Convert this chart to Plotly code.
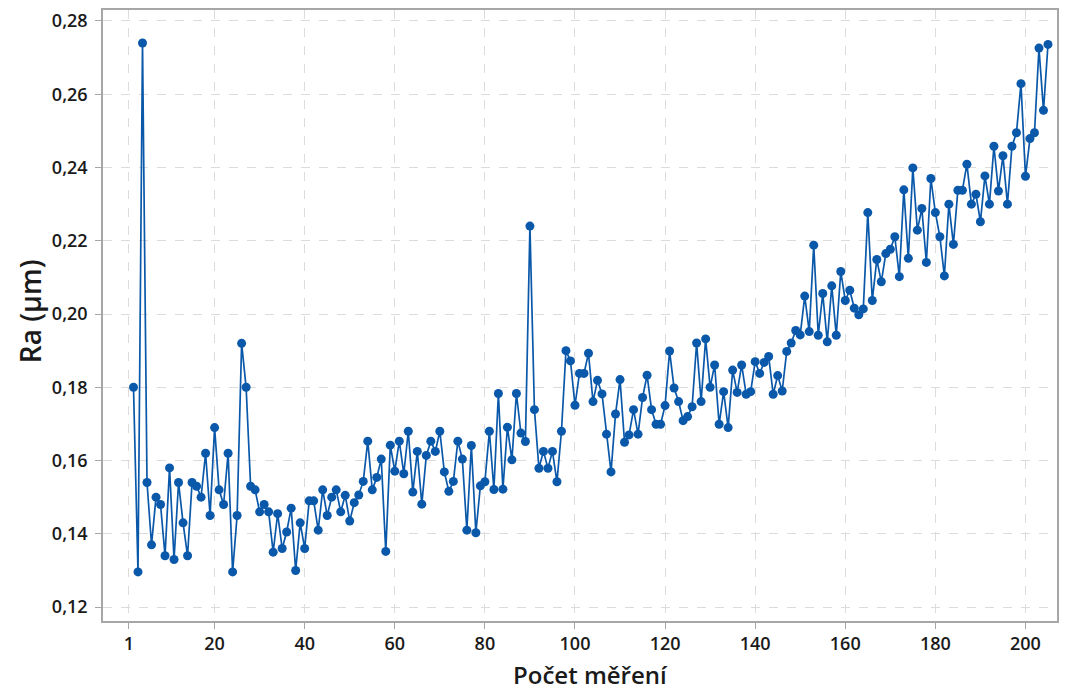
import plotly.graph_objects as go

# Measurement index (points start at 2 on the axis, end at 205)
x_index = list(range(2, 206))

ra_values = [
    0.180, 0.1296, 0.274, 0.154, 0.137, 0.150, 0.148, 0.134, 0.158, 0.133,
    0.154, 0.143, 0.134, 0.154, 0.153, 0.150, 0.162, 0.145, 0.169, 0.152,
    0.148, 0.162, 0.1296, 0.145, 0.192, 0.180, 0.153, 0.152, 0.146, 0.148,
    0.146, 0.135, 0.1455, 0.136, 0.1405, 0.147, 0.130, 0.143, 0.136, 0.149,
    0.149, 0.141, 0.152, 0.145, 0.150, 0.152, 0.146, 0.1505, 0.1435, 0.1485,
    0.1506, 0.1543, 0.1653, 0.152, 0.1554, 0.1604, 0.1352, 0.1642, 0.1571, 0.1653,
    0.1564, 0.168, 0.1514, 0.1625, 0.1481, 0.1614, 0.1653, 0.1625, 0.168, 0.1569,
    0.1516, 0.1543, 0.1653, 0.1604, 0.1410, 0.1641, 0.1403, 0.1531, 0.1542, 0.168,
    0.1521, 0.1783, 0.1522, 0.1691, 0.1602, 0.1783, 0.1675, 0.1652, 0.224, 0.1739,
    0.1579, 0.1625, 0.1579, 0.1625, 0.1542, 0.168, 0.190, 0.1872, 0.1751, 0.1838,
    0.1838, 0.1893, 0.1761, 0.1819, 0.1782, 0.1672, 0.1569, 0.1727, 0.1821, 0.165,
    0.167, 0.1739, 0.1672, 0.1772, 0.1833, 0.1739, 0.1699, 0.1699, 0.175, 0.1899,
    0.1798, 0.1761, 0.1709, 0.172, 0.1747, 0.1921, 0.1761, 0.1932, 0.180, 0.1861,
    0.1699, 0.1788, 0.169, 0.1847, 0.1786, 0.1861, 0.1781, 0.1788, 0.187, 0.1838,
    0.1868, 0.1884, 0.1781, 0.1832, 0.179, 0.1898, 0.1921, 0.1955, 0.1943, 0.2049,
    0.1952, 0.2188, 0.1942, 0.2056, 0.1924, 0.2077, 0.1942, 0.2116, 0.2037, 0.2065,
    0.2016, 0.1998, 0.2014, 0.2277, 0.2037, 0.2149, 0.2088, 0.2165, 0.2177, 0.2211,
    0.2102, 0.2339, 0.2152, 0.2399, 0.2229, 0.2288, 0.2141, 0.237, 0.2277, 0.2211,
    0.2104, 0.230, 0.219, 0.2338, 0.2338, 0.2409, 0.230, 0.2327, 0.2252, 0.2377,
    0.230, 0.2458, 0.2336, 0.2432, 0.230, 0.2458, 0.2495, 0.2629, 0.2376, 0.2479,
    0.2495, 0.2726, 0.2556, 0.2736,
]

x_ticks = [1, 20, 40, 60, 80, 100, 120, 140, 160, 180, 200]
y_ticks = [0.12, 0.14, 0.16, 0.18, 0.20, 0.22, 0.24, 0.26, 0.28]

x_title = "Počet měření"
y_title = "Ra (µm)"

blue = "#0a58aa"
font_family = "Open Sans, Noto Sans, DejaVu Sans, sans-serif"
text_color = "#1a1a1a"

fig = go.Figure()
fig.add_trace(go.Scatter(
    x=x_index, y=ra_values, mode="lines+markers",
    line=dict(color=blue, width=1.7),
    marker=dict(color=blue, size=9, symbol="circle"),
    showlegend=False,
))

axis_common = dict(
    automargin=False,
    showline=True, linecolor="#a6a6a6", linewidth=1.5, mirror=True,
    showgrid=True, gridcolor="#dcdcdc", griddash="dash", gridwidth=1.4,
    zeroline=False,
    ticks="outside", ticklen=6, tickcolor="#a6a6a6", tickwidth=1.3,
    ticklabeloverflow="allow",
    tickfont=dict(family=font_family, size=18, color=text_color, weight=600),
)

fig.update_layout(
    width=1059, height=683,
    paper_bgcolor="white", plot_bgcolor="white",
    margin=dict(l=95, r=10, t=2, b=70),
    separators=", ",
    font=dict(family=font_family, color=text_color),
    xaxis=dict(
        range=[-4.77, 207.0],
        tickmode="array", tickvals=x_ticks, ticktext=[str(t) for t in x_ticks],
        **axis_common,
    ),
    yaxis=dict(
        range=[0.1162, 0.2830],
        tickmode="array", tickvals=y_ticks, tickformat=".2f",
        ticklabelstandoff=4,
        **axis_common,
    ),
    annotations=[
        dict(text=x_title, xref="paper", yref="paper", x=0.5115, y=-0.088,
             xanchor="center", yanchor="middle", showarrow=False,
             font=dict(family=font_family, size=24, color=text_color, weight=600)),
        dict(text=y_title, xref="paper", yref="paper", x=-0.0765, y=0.507,
             xanchor="center", yanchor="middle", showarrow=False, textangle=-90,
             font=dict(family=font_family, size=28, color=text_color, weight=600)),
    ],
)

fig.write_html("out.html")
